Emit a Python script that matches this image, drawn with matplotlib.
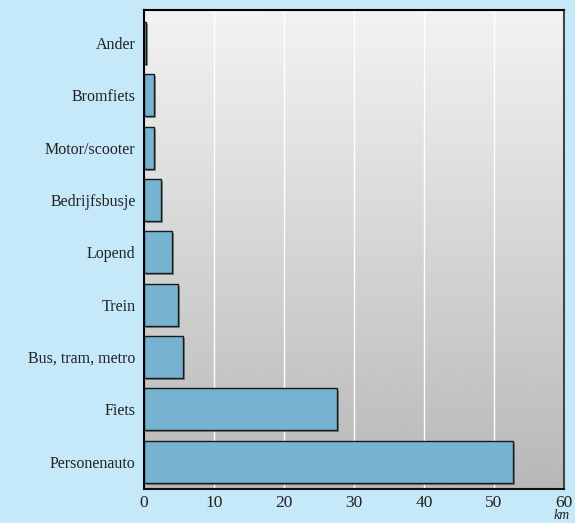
import matplotlib.pyplot as plt
import matplotlib.patheffects as pe
import numpy as np

# categories from bottom to top
categories = ["Personenauto", "Fiets", "Bus, tram, metro", "Trein", "Lopend",
              "Bedrijfsbusje", "Motor/scooter", "Bromfiets", "Ander"]
values = [52.7, 27.6, 5.6, 4.8, 4.0, 2.4, 1.4, 1.4, 0.25]
x_ticks = [0, 10, 20, 30, 40, 50, 60]

plt.rcParams['font.family'] = ['Liberation Serif', 'DejaVu Serif']

fig = plt.figure(figsize=(5.75, 5.23), dpi=100)
fig.patch.set_facecolor('#c6e9f9')
ax = fig.add_axes([0.2504, 0.065, 0.7305, 0.916])

y = np.arange(len(categories))
ylo, yhi = -0.52, len(categories) - 0.37
ax.set_xlim(0, 60)
ax.set_ylim(ylo, yhi)

# gradient background (light at the top, darker at the bottom)
grad = np.linspace(0.72, 0.95, 256).reshape(-1, 1)
ax.imshow(grad, extent=[0, 60, ylo, yhi], origin='lower',
          aspect='auto', cmap='gray', vmin=0, vmax=1, zorder=0)

for t in x_ticks[1:-1]:
    ax.axvline(t, color='white', lw=1.0, zorder=1)

bars = ax.barh(y, values, height=0.8, color='#76b3d1', edgecolor='#1a1a1a',
               linewidth=1.0, zorder=2)
for b in bars:
    b.set_path_effects([pe.SimplePatchShadow(offset=(1.5, -1.5), shadow_rgbFace='#555555', alpha=0.6),
                        pe.Normal()])

ax.set_yticks(y)
ax.set_yticklabels(categories, fontsize=11.5, color='#222222')
ax.set_xticks(x_ticks)
ax.set_xticklabels([str(t) for t in x_ticks], fontsize=12.5, color='#222222')
ax.tick_params(length=0, pad=4)
ax.tick_params(axis='y', pad=6)

ax.spines['left'].set_color('black')
ax.spines['top'].set_color('black')
ax.spines['right'].set_color('#444444')
ax.spines['bottom'].set_color('#111111')
for s in ax.spines.values():
    s.set_linewidth(1.5)
    s.set_zorder(3)

fig.text(0.977, 0.001, 'km', fontsize=10, style='italic', ha='center', va='bottom', color='#222222')

fig.savefig('out.png', dpi=100, facecolor=fig.get_facecolor())
